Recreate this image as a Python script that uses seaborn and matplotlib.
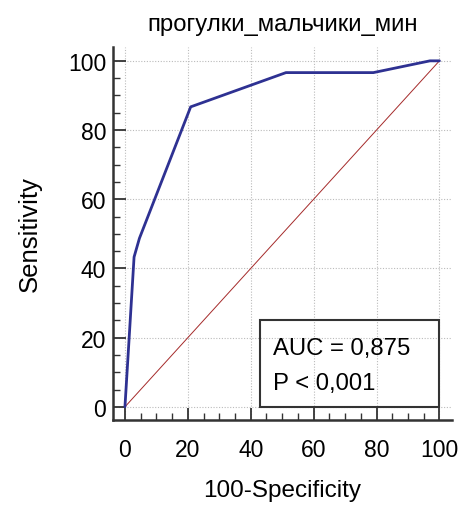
import matplotlib
matplotlib.use("Agg")
import matplotlib.pyplot as plt
import seaborn as sns
import pandas as pd
from matplotlib.ticker import MultipleLocator
from matplotlib.patches import Rectangle

# ROC curve data (100-Specificity vs Sensitivity)
fpr = [0, 2.9, 4.6, 20.9, 51.2, 79.0, 97.0, 100]
tpr = [0, 43.3, 48.7, 86.7, 96.6, 96.6, 100, 100]
diag = [0, 100]
title = "прогулки_мальчики_мин"
xlabel = "100-Specificity"
ylabel = "Sensitivity"
auc_text = "AUC = 0,875"
p_text = "P < 0,001"

sns.set_theme(style="white")
plt.rcParams["font.family"] = ["Liberation Sans", "DejaVu Sans"]
plt.rcParams["text.color"] = "black"
plt.rcParams["axes.labelcolor"] = "black"

fig = plt.figure(figsize=(4.6, 5.06), dpi=100)
W, H = 460, 506
ax = fig.add_axes([113 / W, 1 - 421 / H, (452 - 113) / W, (421 - 48) / H])

df = pd.DataFrame({"x": fpr, "y": tpr})
ax.plot(diag, diag, color="#a52a2a", lw=0.7, zorder=2)
sns.lineplot(data=df, x="x", y="y", ax=ax, color="#2e3192", lw=2.0,
             sort=False, estimator=None, zorder=3)

ax.set_xlim(-3.8, 104)
ax.set_ylim(-3.8, 104)
ax.xaxis.set_minor_locator(MultipleLocator(5))
ax.yaxis.set_minor_locator(MultipleLocator(5))
ax.set_xticks([0, 20, 40, 60, 80, 100])
ax.set_yticks([0, 20, 40, 60, 80, 100])

ax.grid(True, which="major", color="#bbbbbb", linestyle=(0, (1, 1.5)), lw=0.8)
ax.set_axisbelow(True)
for s in ["top", "right"]:
    ax.spines[s].set_visible(False)
for s in ["left", "bottom"]:
    ax.spines[s].set_color("#333333")
    ax.spines[s].set_linewidth(1.8)

ax.tick_params(axis="both", which="major", direction="in", length=9,
               width=1.3, color="#333333", labelsize=16.5, labelcolor="black")
ax.tick_params(axis="both", which="minor", direction="in", length=5,
               width=1.0, color="#333333")
ax.tick_params(axis="x", which="major", pad=13)
ax.tick_params(axis="y", which="major", pad=5)
ax.tick_params(bottom=True, left=True, which="both")

ax.set_xlabel(xlabel, fontsize=17.5, labelpad=13, color="black")
ax.set_ylabel(ylabel, fontsize=18.5, labelpad=19, color="black")
ax.set_title(title, fontsize=17.2, pad=12, color="black")

ax.add_patch(Rectangle((43, 0), 57, 25, fill=False, edgecolor="#333333",
                       lw=1.5, zorder=4))
ax.text(47, 17, auc_text, fontsize=17.2, va="center", ha="left", zorder=5,
        color="black")
ax.text(47, 7, p_text, fontsize=17.2, va="center", ha="left", zorder=5,
        color="black")

fig.savefig("out.png", dpi=100)
